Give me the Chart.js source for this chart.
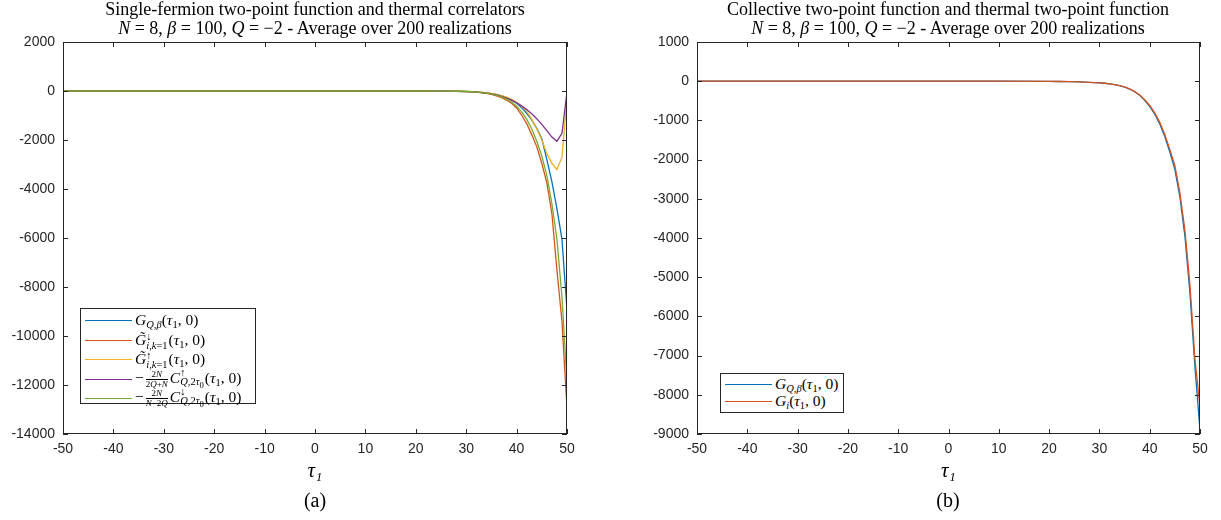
<!DOCTYPE html>
<html>
<head>
<meta charset="utf-8">
<script src="https://cdn.jsdelivr.net/npm/chart.js@4.4.1/dist/chart.umd.min.js"></script>
<style>
  body { margin: 0; background: #fff; }
  #page { position: relative; width: 1221px; height: 520px; overflow: hidden; background: #fff; }
  .wrap { position: absolute; top: 0; height: 520px; }
  .ttl { position: absolute; top: 0; width: 600px; text-align: center; font-family: 'Liberation Serif', 'DejaVu Serif', serif; font-size: 18px; line-height: 19px; color: #000; white-space: nowrap; }
  .cap { position: absolute; top: 489px; width: 60px; text-align: center; font-family: 'Liberation Serif', 'DejaVu Serif', serif; font-size: 20px; color: #000; }
  .lg { position: absolute; background: #fff; border: 1px solid #262626; font-family: 'Liberation Serif', 'DejaVu Serif', serif; font-size: 15.5px; color: #000; box-sizing: border-box; }
  .row { position: absolute; left: 4px; height: 20px; line-height: 20px; white-space: nowrap; }
  .sw { position: absolute; left: 0; top: 10px; width: 47px; height: 1px; }
  .lbl { position: absolute; left: 50px; top: 0; height: 20px; display: flex; align-items: center; }
  .s { font-size: 10.5px; vertical-align: -3px; line-height: 0; }
  .ss { display: inline-flex; flex-direction: column; font-size: 10.5px; line-height: 9px; vertical-align: middle; margin-right: 1px; }
  .fr { display: inline-flex; flex-direction: column; font-size: 9px; line-height: 9px; text-align: center; vertical-align: middle; margin: 0 2px; }
  .fr .num { border-bottom: 0.8px solid #000; }
</style>
</head>
<body>
<div id="page">
  <div class="wrap" style="left:0;width:610px"><canvas id="chartA" width="610" height="520"></canvas></div>
  <div class="wrap" style="left:610px;width:611px"><canvas id="chartB" width="611" height="520"></canvas></div>
  <div class="ttl" style="left:15px">Single-fermion two-point function and thermal correlators<br><i>N</i> = 8, <i>β</i> = 100, <i>Q</i> = −2 - Average over 200 realizations</div>
  <div class="ttl" style="left:648px">Collective two-point function and thermal two-point function<br><i>N</i> = 8, <i>β</i> = 100, <i>Q</i> = −2 - Average over 200 realizations</div>
  <div class="cap" style="left:285px">(a)</div>
  <div class="cap" style="left:918px">(b)</div>
  <div class="lg" id="legA" style="left:80px;top:308px;width:176px;height:96px"></div>
  <div class="lg" id="legB" style="left:720px;top:373px;width:124px;height:40px"></div>
</div>
<script>
// tau grid (coarse where everything is flat, step 1 near the end)
const tau = [-50, -40, -30, -20, -10, 0, 10, 20, 22, 24, 26, 28,
  30, 31, 32, 33, 34, 35, 36, 37, 38, 39, 40, 41, 42, 43, 44, 45, 46, 47, 48, 49, 50];

// panel (a)
const gQBetaA = [0, 0, 0, 0, 0, 0, 0, 0, -1, -2, -4, -8,
  -17, -25, -36, -52, -75, -105, -145, -200, -270, -370, -500, -680, -910, -1180, -1520, -1950, -2800, -3700, -4800, -6050, -8950];
const gDownA = [0, 0, 0, 0, 0, 0, 0, 0, -1, -2, -5, -11,
  -23, -33, -48, -70, -100, -140, -195, -270, -370, -500, -690, -980, -1330, -1780, -2270, -2950, -3750, -5000, -7300, -9400, -12950];
const gUpA = [0, 0, 0, 0, 0, 0, 0, 0, -1, -2, -4, -8,
  -16, -24, -35, -50, -70, -97, -135, -185, -250, -340, -460, -620, -820, -1150, -1550, -2000, -2550, -2950, -3200, -2700, -300];
const cUpA = [0, 0, 0, 0, 0, 0, 0, 0, -1, -3, -6, -12,
  -25, -34, -47, -65, -90, -120, -160, -220, -290, -370, -480, -600, -760, -930, -1130, -1360, -1620, -1880, -2050, -1730, -40];
const cDownA = [0, 0, 0, 0, 0, 0, 0, 0, -1, -2, -5, -10,
  -21, -30, -44, -63, -90, -125, -175, -240, -330, -450, -620, -850, -1150, -1550, -2050, -2650, -3450, -4600, -6050, -8400, -11900];

// panel (b)
const gQBetaB = [0, 0, 0, 0, 0, 0, 0, -5, -8, -12, -18, -28,
  -42, -52, -66, -86, -112, -148, -200, -268, -360, -485, -640, -840, -1090, -1410, -1810, -2250, -2950, -3950, -5400, -7300, -8900];
const gIB = [0, 0, 0, 0, 0, 0, 0, -5, -8, -12, -18, -28,
  -42, -52, -66, -85, -110, -145, -195, -260, -350, -470, -620, -810, -1050, -1360, -1740, -2150, -2850, -3800, -5200, -7100, -8300];

const colors = ['#0072BD', '#D95319', '#EDB120', '#7E2F8E', '#77AC30'];
const tau1 = '(<i>τ</i><sub class="s">1</sub>, 0)';
const legendA = [
  '<i>G</i><sub class="s"><i>Q</i>,<i>β</i></sub>' + tau1,
  '<i>G̃</i><span class="ss"><span>↓</span><span><i>i</i>,<i>k</i>=1</span></span>' + tau1,
  '<i>G̃</i><span class="ss"><span>↑</span><span><i>i</i>,<i>k</i>=1</span></span>' + tau1,
  '−<span class="fr"><span class="num">2<i>N</i></span><span>2<i>Q</i>+<i>N</i></span></span><i>C</i><span class="ss"><span>↑</span><span><i>Q</i>,2<i>τ</i><sub>0</sub></span></span>' + tau1,
  '−<span class="fr"><span class="num">2<i>N</i></span><span><i>N</i>−2<i>Q</i></span></span><i>C</i><span class="ss"><span>↓</span><span><i>Q</i>,2<i>τ</i><sub>0</sub></span></span>' + tau1
];
const legendB = [
  '<i>G</i><sub class="s"><i>Q</i>,<i>β</i></sub>' + tau1,
  '<i>G</i><sub class="s"><i>i</i></sub>' + tau1
];

const pts = (ys) => tau.map((t, i) => ({ x: t, y: ys[i] }));
const axisColor = '#262626';
const tickFont = { family: "'Liberation Sans', Arial, sans-serif", size: 14 };

// MATLAB-like box with inward ticks on all sides
const boxPlugin = {
  id: 'matlabBox',
  afterDatasetsDraw(chart) {
    const { ctx, chartArea: a, scales: { x, y } } = chart;
    const tl = 5;
    ctx.save();
    ctx.strokeStyle = axisColor;
    ctx.lineWidth = 1;
    ctx.strokeRect(a.left + 0.5, a.top + 0.5, a.right - a.left - 1, a.bottom - a.top - 1);
    ctx.beginPath();
    x.ticks.forEach(t => {
      const px = Math.round(x.getPixelForValue(t.value)) + 0.5;
      ctx.moveTo(px, a.bottom); ctx.lineTo(px, a.bottom - tl);
      ctx.moveTo(px, a.top); ctx.lineTo(px, a.top + tl);
    });
    y.ticks.forEach(t => {
      const py = Math.round(y.getPixelForValue(t.value)) + 0.5;
      ctx.moveTo(a.left, py); ctx.lineTo(a.left + tl, py);
      ctx.moveTo(a.right, py); ctx.lineTo(a.right - tl, py);
    });
    ctx.stroke();
    ctx.restore();
  }
};

function makeChart(id, series, yMin, yMax, yStep, yWidth, padRight) {
  const ctx = document.getElementById(id).getContext('2d');
  return new Chart(ctx, {
    type: 'line',
    data: {
      datasets: series.map((s, i) => ({
        data: pts(s),
        borderColor: colors[i],
        borderWidth: 1.3,
        pointRadius: 0,
        tension: 0,
        fill: false,
        order: series.length - i, // later series drawn on top, like MATLAB
      })),
    },
    options: {
      responsive: false,
      animation: false,
      layout: { padding: { left: 0, right: padRight, top: 42, bottom: 0 } },
      plugins: { legend: { display: false }, tooltip: { enabled: false } },
      scales: {
        x: {
          type: 'linear',
          min: -50,
          max: 50,
          grid: { display: false, drawTicks: false },
          border: { display: false },
          ticks: { stepSize: 10, padding: 7, color: axisColor, font: tickFont, maxRotation: 0,
            callback: (v) => String(v) },
          title: { display: true, text: 'τ₁', color: '#000', padding: { top: 0, bottom: 36 },
            font: { family: "'Liberation Serif', 'DejaVu Serif', serif", size: 21, style: 'italic' } },
          afterFit: (scale) => { scale.height = 86; },
        },
        y: {
          min: yMin,
          max: yMax,
          grid: { display: false, drawTicks: false },
          border: { display: false },
          ticks: { stepSize: yStep, padding: 8, color: axisColor, font: tickFont,
            callback: (v) => String(v) },
          afterFit: (scale) => { scale.width = yWidth; },
        },
      },
    },
    plugins: [boxPlugin],
  });
}

function makeLegend(id, labels, tops) {
  const el = document.getElementById(id);
  labels.forEach((html, i) => {
    const row = document.createElement('div');
    row.className = 'row';
    row.style.top = tops[i] + 'px';
    row.innerHTML = '<div class="sw" style="background:' + colors[i] + '"></div><div class="lbl"><span>' + html + '</span></div>';
    el.appendChild(row);
  });
}

makeChart('chartA', [gQBetaA, gDownA, gUpA, cUpA, cDownA], -14000, 2000, 2000, 63, 43);
makeChart('chartB', [gQBetaB, gIB], -9000, 1000, 1000, 87, 21);
makeLegend('legA', legendA, [1, 21, 40, 60, 79]);
makeLegend('legB', legendB, [0, 17]);
</script>
</body>
</html>
